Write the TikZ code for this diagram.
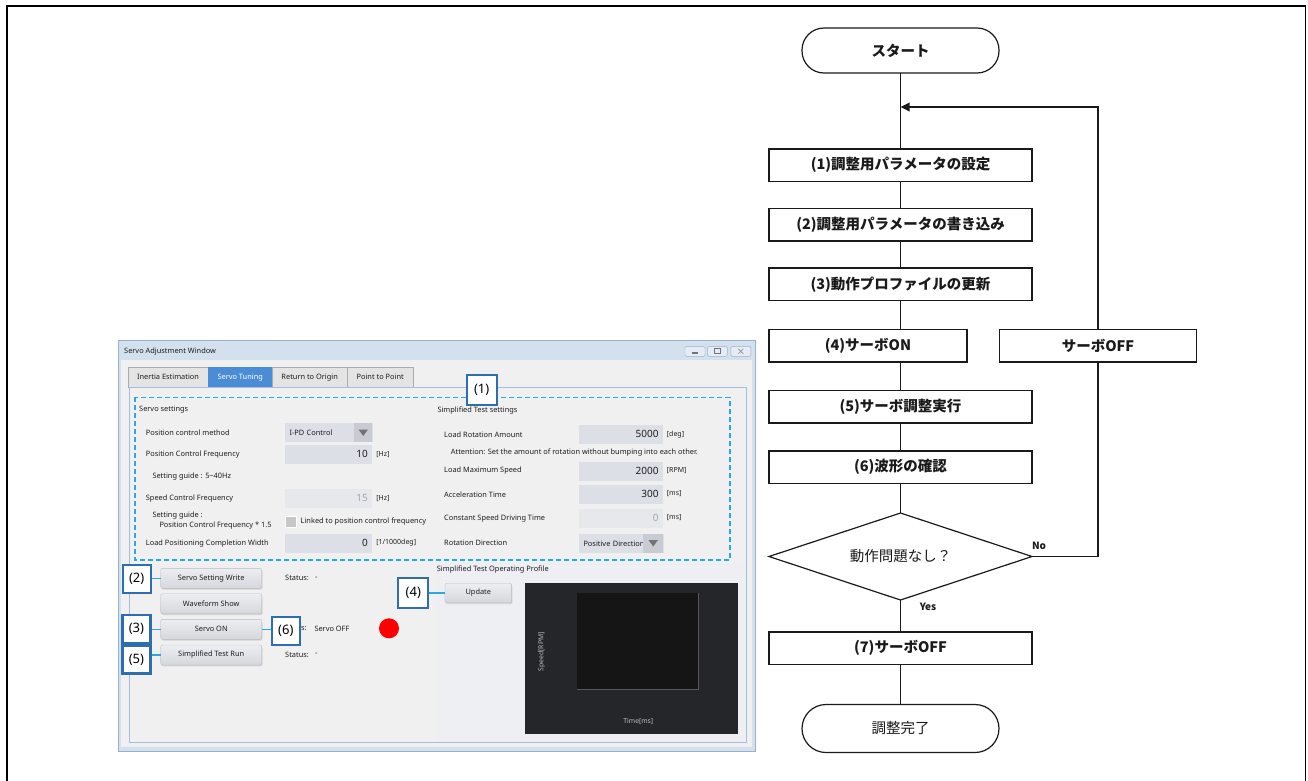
\documentclass[tikz,border=0pt]{standalone}
\usepackage{fontspec}
\setmainfont{Noto Sans}
\newfontfamily\uifont{Noto Sans}
\newfontfamily\jpfont{Noto Sans CJK JP}
\usetikzlibrary{arrows.meta,positioning,shapes.geometric,shadows}
\definecolor{ink}{HTML}{1A1A1A}
\definecolor{uitext}{HTML}{1E1E1E}
\definecolor{winframe}{HTML}{D3E0EE}
\definecolor{winedge}{HTML}{9AB0C9}
\definecolor{clientbg}{HTML}{F0F0F0}
\definecolor{profilebg}{HTML}{EDEFF3}
\definecolor{paneledge}{HTML}{A3BFDD}
\definecolor{tabgray}{HTML}{E4E4E4}
\definecolor{tabedge}{HTML}{ABABAB}
\definecolor{tabblue}{HTML}{4A8CD5}
\definecolor{fieldgray}{HTML}{DCDFE6}
\definecolor{dimgray}{HTML}{E7E8EB}
\definecolor{dropgray}{HTML}{C8CBD2}
\definecolor{btntop}{HTML}{EDEEF1}
\definecolor{btnbot}{HTML}{D5D7DC}
\definecolor{btnedge}{HTML}{B8BBC2}
\definecolor{numblue}{HTML}{2E6EAE}
\definecolor{cuecyan}{HTML}{2AA9E0}
\definecolor{graphbg}{HTML}{252629}
\definecolor{plotbg}{HTML}{151515}
\definecolor{plotedge}{HTML}{595959}

\begin{document}
\begin{tikzpicture}[x=1pt,y=-1pt,
  ui/.style={font=\uifont\fontsize{7.4}{8}\selectfont,text=uitext,inner sep=0pt,anchor=west},
  unit/.style={ui,font=\uifont\fontsize{7}{8}\selectfont},
  field/.style={fill=fieldgray,minimum height=19pt,inner xsep=4pt,inner ysep=0pt,text width=#1,
    align=right,anchor=west,font=\uifont\fontsize{10}{11}\selectfont,text=uitext},
  dimfield/.style={field=#1,fill=dimgray,text=black!35},
  combo/.style={fill=fieldgray,minimum height=19pt,inner xsep=5pt,inner ysep=0pt,text width=#1,
    align=left,anchor=west,font=\uifont\fontsize{7.4}{8}\selectfont,text=uitext},
  btn/.style={draw=btnedge,rounded corners=2pt,top color=btntop,bottom color=btnbot,
    minimum height=20pt,inner sep=0pt,font=\uifont\fontsize{7.4}{8}\selectfont,text=uitext,
    drop shadow={shadow xshift=0.8pt,shadow yshift=-1.3pt,opacity=0.25}},
  numbox/.style={draw=numblue,line width=2.2pt,fill=white,minimum size=28pt,inner sep=0pt,
    font=\uifont\fontsize{13}{14}\selectfont,text=black},
  cue/.style={draw=cuecyan,line width=1.4pt},
  tabbox/.style={draw=tabedge,fill=tabgray,minimum height=20pt,inner sep=0pt,anchor=north west,
    font=\uifont\fontsize{7.4}{8}\selectfont,text=uitext},
  winbtn/.style={draw=winedge,fill=winframe!60!white,rounded corners=1.5pt,minimum width=20pt,
    minimum height=10pt,inner sep=0pt},
  proc/.style={draw=ink,line width=1.2pt,fill=white,minimum width=263pt,minimum height=32.5pt,
    inner sep=0pt,outer sep=0pt,font=\jpfont\bfseries\fontsize{14.5}{16}\selectfont,text=ink},
  term/.style={proc,rounded corners=22pt,minimum width=197pt,minimum height=45pt},
  dec/.style={diamond,draw=ink,line width=1.2pt,fill=white,minimum width=263pt,minimum height=87pt,
    aspect=3,inner sep=0pt,outer sep=0pt,font=\jpfont\fontsize{14.5}{16}\selectfont,text=ink},
  link/.style={draw=ink,line width=1.8pt},
  answer/.style={font=\jpfont\bfseries\fontsize{10}{12}\selectfont,text=ink,inner sep=0pt}
]
\useasboundingbox (0,0) rectangle (1308,780);
\draw[line width=1.6pt] (7,790) -- (7,6) -- (1305.5,6) -- (1305.5,790);

% --- adjustment window ---
\draw[winedge,fill=winframe] (118,340) rectangle (755,751);
\fill[clientbg] (121,360) rectangle (752,747);
\node[ui] (title) at (124,351.7) {Servo Adjustment Window};
\node[winbtn] (wmin) at (695,351.3) {};
\node[winbtn] (wmax) at (717.3,351.3) {};
\node[winbtn] (wcls) at (740.8,351.3) {};
\fill[black!55] ([xshift=-3pt,yshift=-1pt]wmin.center) rectangle ([xshift=3pt,yshift=-2.5pt]wmin.center);
\draw[black!55,line width=0.8pt] ([xshift=-3pt,yshift=-2.5pt]wmax.center) rectangle ([xshift=3pt,yshift=2.5pt]wmax.center);
\draw[black!40,line width=0.8pt] ([xshift=-2.5pt,yshift=-2.5pt]wcls.center) -- ([xshift=2.5pt,yshift=2.5pt]wcls.center)
  ([xshift=-2.5pt,yshift=2.5pt]wcls.center) -- ([xshift=2.5pt,yshift=-2.5pt]wcls.center);

% tabs
\node[tabbox,minimum width=79.7pt] (tinertia) at (128,367) {Inertia Estimation};
\node[tabbox,minimum width=64.6pt,fill=tabblue,draw=tabblue,text=white] (ttuning) at (207.7,367) {Servo Tuning};
\node[tabbox,minimum width=74.4pt] (torigin) at (272.3,367) {Return to Origin};
\node[tabbox,minimum width=66.6pt] (tpoint) at (346.7,367) {Point to Point};

% tab page
\draw[paneledge,fill=clientbg,line width=0.8pt] (129,387) rectangle (746,742);
\fill[profilebg] (436,562) rectangle (745.4,741.4);
\draw[cuecyan,line width=1.5pt,dash pattern=on 5pt off 3pt] (135,397.3) rectangle (730,560);

% servo settings
\node[ui] (hservo) at (139,410) {Servo settings};
\node[ui] (lmethod) at (145.7,432.3) {Position control method};
\node[combo=78pt] (cmethod) at (284.3,432.5) {I-PD Control};
\fill[dropgray] (354,423) rectangle (372.3,442);
\fill[black!55] (358.5,429.5) -- (368,429.5) -- (363.25,436) -- cycle;
\node[ui] (lposfreq) at (145.7,454.3) {Position Control Frequency};
\node[field=79.4pt] (fposfreq) at (284.3,454.2) {10};
\node[unit,right=4pt of fposfreq] (uposfreq) {[Hz]};
\node[ui] (gposfreq) at (152.3,476.7) {Setting guide : 5\char"007E 40Hz};
\node[ui] (lspdfreq) at (145.7,499) {Speed Control Frequency};
\node[dimfield=79.4pt] (fspdfreq) at (284.3,498.3) {15};
\node[unit,right=4pt of fspdfreq] (uspdfreq) {[Hz]};
\node[ui] (gspdfreq) at (152.3,515.7) {Setting guide :};
\node[ui] (gspdfreqb) at (159.3,526) {Position Control Frequency * 1.5};
\node[fill=black!22,draw=white,minimum size=11pt,inner sep=0pt] (chklink) at (290.8,521.3) {};
\node[ui,right=4pt of chklink] (llink) {Linked to position control frequency};
\node[ui] (lwidth) at (145.7,544) {Load Positioning Completion Width};
\node[field=79.4pt] (fwidth) at (284.3,543) {0};
\node[unit,right=4pt of fwidth] (uwidth) {[1/1000deg]};

% simplified test settings
\node[ui] (htest) at (437.3,411) {Simplified Test settings};
\node[ui] (lrot) at (444,434.3) {Load Rotation Amount};
\node[field=76pt] (frot) at (578.3,434.3) {5000};
\node[unit,right=4pt of frot] (urot) {[deg]};
\node[ui] (nrot) at (450.7,452.3) {Attention: Set the amount of rotation without bumping into each other.};
\node[ui] (lmaxspd) at (444,471) {Load Maximum Speed};
\node[field=76pt] (fmaxspd) at (578.3,471) {2000};
\node[unit,right=4pt of fmaxspd] (umaxspd) {[RPM]};
\node[ui] (lacc) at (444,495) {Acceleration Time};
\node[field=76pt] (facc) at (578.3,494) {300};
\node[unit,right=4pt of facc] (uacc) {[ms]};
\node[ui] (lconst) at (444,519) {Constant Speed Driving Time};
\node[dimfield=76pt] (fconst) at (578.3,518) {0};
\node[unit,right=4pt of fconst] (uconst) {[ms]};
\node[ui] (ldir) at (444,542.3) {Rotation Direction};
\node[combo=75pt] (cdir) at (578.3,543.3) {Positive Direction};
\fill[dropgray] (643.3,533.8) rectangle (663.3,553.3);
\fill[black!55] (648.5,540) -- (658,540) -- (653.25,546.5) -- cycle;

% buttons and status
\node[btn,minimum width=101pt] (bwrite) at (211.2,578.3) {Servo Setting Write};
\node[btn,minimum width=101pt] (bwave) at (211.2,603.7) {Waveform Show};
\node[btn,minimum width=101pt] (bservo) at (211.2,629.3) {Servo ON};
\node[btn,minimum width=101pt] (brun) at (211.2,655) {Simplified Test Run};
\node[ui] (swrite) at (285,578) {Status:};
\node[ui] (vwrite) at (315,578) {-};
\node[ui] (sservo) at (300.8,629) {s:};
\node[ui] (vservo) at (314.3,629) {Servo OFF};
\node[ui] (srun) at (285,654.5) {Status:};
\node[ui] (vrun) at (315,654.5) {-};
\node[circle,fill=red,minimum size=20pt,inner sep=0pt] (led) at (389,628.3) {};

% operating profile
\node[ui] (hprofile) at (436.7,570) {Simplified Test Operating Profile};
\node[btn,minimum width=66.7pt,minimum height=19.5pt] (bupdate) at (478.3,593) {Update};
\fill[graphbg] (525,582.7) rectangle (738.3,734);
\fill[plotbg] (576.7,593.3) rectangle (698.3,689.3);
\draw[plotedge,line width=1.2pt] (576.7,689.3) -- (698.3,689.3) -- (698.3,593.3);
\node[font=\uifont\fontsize{6.8}{8}\selectfont,text=black!25,rotate=90,inner sep=0pt] (yaxis) at (541.7,651.7) {Speed[RPM]};
\node[font=\uifont\fontsize{6.8}{8}\selectfont,text=black!25,inner sep=0pt] (xaxis) at (638.3,721.7) {Time[ms]};

% step markers
\node[numbox,minimum size=30pt] (m1) at (481.7,390) {(1)};
\node[numbox] (m2) at (136.7,579.2) {(2)};
\node[numbox] (m3) at (136.4,629) {(3)};
\node[numbox] (m5) at (136.4,659.5) {(5)};
\node[numbox] (m6) at (285.8,631.2) {(6)};
\node[numbox,minimum size=30pt] (m4) at (413.3,593.3) {(4)};
\draw[cue] (m2.east |- bwrite.west) -- (bwrite.west);
\draw[cue] (m3.east |- bservo.west) -- (bservo.west);
\draw[cue] (m5.east |- brun.west) -- (brun.west);
\draw[cue] (bservo.east) -- (bservo.east -| m6.west);
\draw[cue] (m4.east |- bupdate.west) -- (bupdate.west);

% --- flow chart ---
\node[term] (start) at (900.5,50.5) {スタート};
\node[proc,below=76pt of start] (s1) {(1)調整用パラメータの設定};
\node[proc,below=27pt of s1] (s2) {(2)調整用パラメータの書き込み};
\node[proc,below=27pt of s2] (s3) {(3)動作プロファイルの更新};
\node[proc,minimum width=198pt,below=29pt of s3.south west,anchor=north west] (s4) {(4)サーボON};
\node[proc,minimum width=197pt,right=32.5pt of s4] (soff) {サーボOFF};
\node[proc,anchor=north] (s5) at ([yshift=-28.5pt]s4.south -| s3.south) {(5)サーボ調整実行};
\node[proc,below=28pt of s5] (s6) {(6)波形の確認};
\node[dec,below=29.5pt of s6] (dia) {動作問題なし？};
\node[proc,below=32pt of dia] (s7) {(7)サーボOFF};
\node[term,font=\jpfont\fontsize{14.5}{16}\selectfont,minimum height=48pt,rounded corners=24pt,below=40pt of s7] (finish) {調整完了};
\coordinate (merge) at (900.5,107);
\node[answer] (lno) at (1039,545.7) {No};
\node[answer] (lyes) at (928,606.7) {Yes};

\draw[link] (start) -- (s1);
\draw[link] (s1) -- (s2);
\draw[link] (s2) -- (s3);
\draw[link] (s3.south) -- (s3.south |- s4.north);
\draw[link] (s3.south |- s4.south) -- (s5);
\draw[link] (s5) -- (s6);
\draw[link] (s6) -- (dia);
\draw[link] (dia) -- (s7);
\draw[link] (s7) -- (finish);
\draw[link] (dia.east) -| (soff.south);
\draw[link,-{Triangle[length=9pt,width=8.5pt]}] (soff.north) |- (merge);
\end{tikzpicture}
\end{document}
